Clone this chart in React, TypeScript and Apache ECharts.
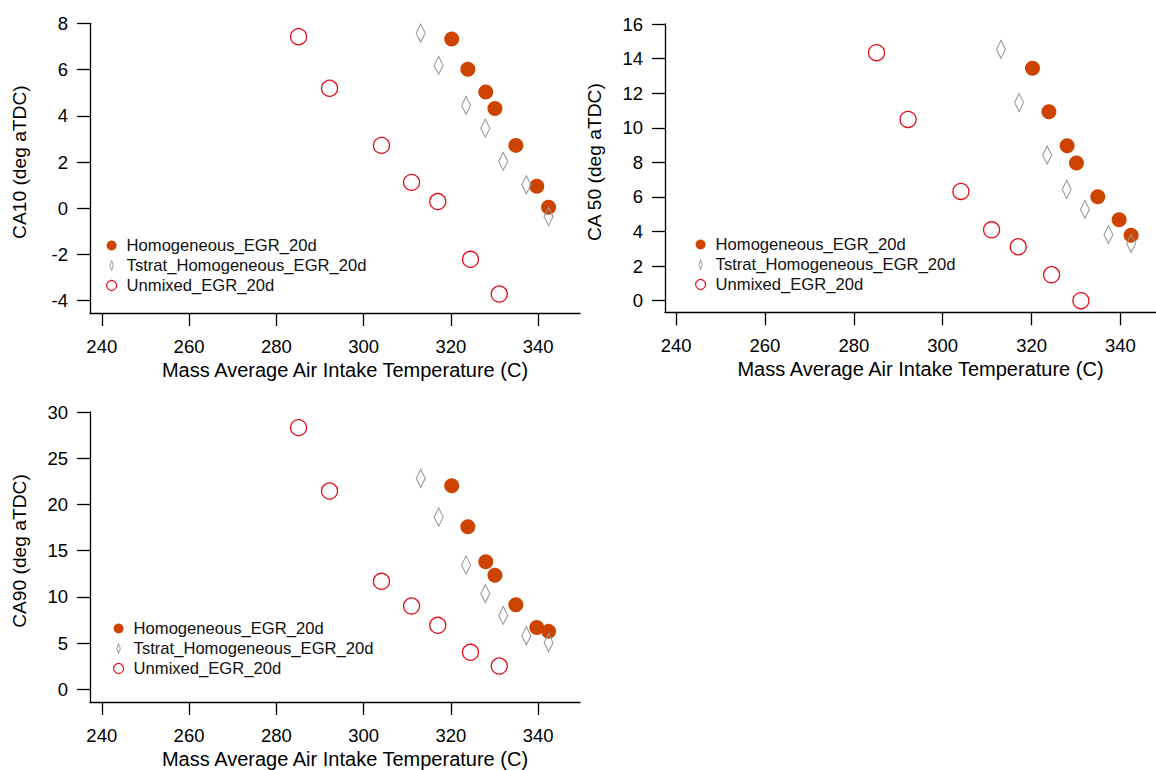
import React, { useEffect, useRef } from "react";
import * as echarts from "echarts";

// Mass average air intake temperature (C)
const tempHomog = [320.2, 323.9, 328.0, 330.1, 334.9, 339.7, 342.4];
const tempTstrat = [313.1, 317.2, 323.5, 327.9, 332.0, 337.3, 342.4];
const tempUnmixed = [285.1, 292.2, 304.1, 311.0, 317.0, 324.5, 331.1];

// CA10 (deg aTDC)
const ca10Homog = [7.32, 6.01, 5.03, 4.31, 2.72, 0.95, 0.04];
const ca10Tstrat = [7.57, 6.18, 4.45, 3.46, 2.03, 1.02, -0.36];
const ca10Unmixed = [7.42, 5.19, 2.72, 1.12, 0.29, -2.21, -3.71];

// CA 50 (deg aTDC)
const ca50Homog = [13.44, 10.93, 8.96, 7.96, 6.01, 4.68, 3.78];
const ca50Tstrat = [14.53, 11.46, 8.42, 6.44, 5.28, 3.82, 3.31];
const ca50Unmixed = [14.34, 10.48, 6.32, 4.1, 3.12, 1.5, 0.0];

// CA90 (deg aTDC)
const ca90Homog = [22.03, 17.6, 13.81, 12.33, 9.16, 6.7, 6.27];
const ca90Tstrat = [22.82, 18.64, 13.45, 10.35, 8.0, 5.8, 5.05];
const ca90Unmixed = [28.31, 21.45, 11.68, 9.01, 6.92, 4.0, 2.52];

const xTicks = [240, 260, 280, 300, 320, 340];
const y1Ticks = [-4, -2, 0, 2, 4, 6, 8];
const y2Ticks = [0, 2, 4, 6, 8, 10, 12, 14, 16];
const y3Ticks = [0, 5, 10, 15, 20, 25, 30];

const seriesNames = ["Homogeneous_EGR_20d", "Tstrat_Homogeneous_EGR_20d", "Unmixed_EGR_20d"];
const xTitle = "Mass Average Air Intake Temperature (C)";
const yTitles = ["CA10 (deg aTDC)", "CA 50 (deg aTDC)", "CA90 (deg aTDC)"];

const FONT = "'Liberation Sans', Arial, sans-serif";
const DIAMOND = "path://M4,0 L8,10 L4,20 L0,10 Z";

const zip = (xs: number[], ys: number[]) => xs.map((x, i) => [x, ys[i]]);

export default function App() {
  const ref = useRef<HTMLDivElement>(null);
  useEffect(() => {
    document.body.style.margin = "0";
    if (!ref.current) return;
    const chart = echarts.init(ref.current, null, { renderer: "svg" });

    const grids = [
      { left: 90, top: 23.3, width: 490, height: 289.7 },
      { left: 665, top: 24, width: 491, height: 288.3 },
      { left: 90, top: 412, width: 490, height: 290 },
    ];
    const xRanges = [
      [237.3, 349.6],
      [237.5, 348.0],
      [237.3, 349.6],
    ];
    const yRanges = [
      [-4.53, 8],
      [-0.67, 16],
      [-1.37, 30],
    ];
    const yTickSets = [y1Ticks, y2Ticks, y3Ticks];
    const yData = [
      [ca10Homog, ca10Tstrat, ca10Unmixed],
      [ca50Homog, ca50Tstrat, ca50Unmixed],
      [ca90Homog, ca90Tstrat, ca90Unmixed],
    ];
    const legendPos = [
      { left: 106, top: 237 },
      { left: 695, top: 236 },
      { left: 113, top: 620 },
    ];

    const axisLine = { show: true, onZero: false, lineStyle: { color: "#000", width: 1.3 } };

    const xAxis = grids.map((_, i) => ({
      type: "value",
      gridIndex: i,
      min: xRanges[i][0],
      max: xRanges[i][1],
      axisLine,
      axisTick: { show: true, customValues: xTicks, length: 13, lineStyle: { color: "#000", width: 1.3 } },
      axisLabel: { customValues: xTicks, fontSize: 18.5, color: "#000", margin: 24, fontFamily: FONT },
      splitLine: { show: false },
      name: xTitle,
      nameLocation: "middle",
      nameGap: 47,
      nameTextStyle: { fontSize: 20, color: "#000", fontFamily: FONT, padding: [0, 0, 0, 20] },
    }));

    const yAxis = grids.map((_, i) => ({
      type: "value",
      gridIndex: i,
      min: yRanges[i][0],
      max: yRanges[i][1],
      axisLine,
      axisTick: { show: true, customValues: yTickSets[i], length: 13, lineStyle: { color: "#000", width: 1.3 } },
      axisLabel: { customValues: yTickSets[i], fontSize: 18.5, color: "#000", margin: 22, fontFamily: FONT },
      splitLine: { show: false },
      name: yTitles[i],
      nameLocation: "middle",
      nameGap: 61,
      nameTextStyle: { fontSize: 19.2, color: "#000", fontFamily: FONT, padding: [0, 0, 0, 12] },
    }));

    const temps = [tempHomog, tempTstrat, tempUnmixed];
    const styles = [
      { symbol: "circle", symbolSize: 15, itemStyle: { color: "#cc4400", borderWidth: 0, opacity: 1 } },
      {
        symbol: DIAMOND,
        symbolSize: [9, 18],
        itemStyle: { color: "rgba(255,255,255,0)", borderColor: "#9a9a9a", borderWidth: 1.2, opacity: 1 },
      },
      {
        symbol: "circle",
        symbolSize: 16,
        itemStyle: { color: "rgba(255,255,255,0)", borderColor: "#e0101a", borderWidth: 1.3, opacity: 1 },
      },
    ];

    const series: any[] = [];
    grids.forEach((_, g) => {
      seriesNames.forEach((name, s) => {
        series.push({
          type: "scatter",
          name,
          xAxisIndex: g,
          yAxisIndex: g,
          data: zip(temps[s], yData[g][s]),
          symbol: styles[s].symbol,
          symbolSize: styles[s].symbolSize,
          itemStyle: styles[s].itemStyle,
          emphasis: { disabled: true },
        });
      });
    });

    const legend = legendPos.map((p) => ({
      show: true,
      orient: "vertical",
      left: p.left,
      top: p.top,
      padding: 0,
      itemWidth: 10,
      itemHeight: 10,
      itemGap: 3,
      selectedMode: false,
      textStyle: { fontSize: 16.6, color: "#111", fontFamily: FONT, padding: [0, 0, 0, 5], lineHeight: 16 },
      data: [
        { name: seriesNames[0], icon: "circle" },
        { name: seriesNames[1], icon: "path://M2,0 L4,6 L2,12 L0,6 Z", itemStyle: { borderWidth: 1 } },
        { name: seriesNames[2], icon: "circle", itemStyle: { borderWidth: 1.2 } },
      ],
    }));

    chart.setOption({
      animation: false,
      backgroundColor: "#fff",
      grid: grids,
      xAxis,
      yAxis,
      legend,
      series,
    });
    return () => chart.dispose();
  }, []);
  return <div ref={ref} style={{ width: 1156, height: 770 }} />;
}
